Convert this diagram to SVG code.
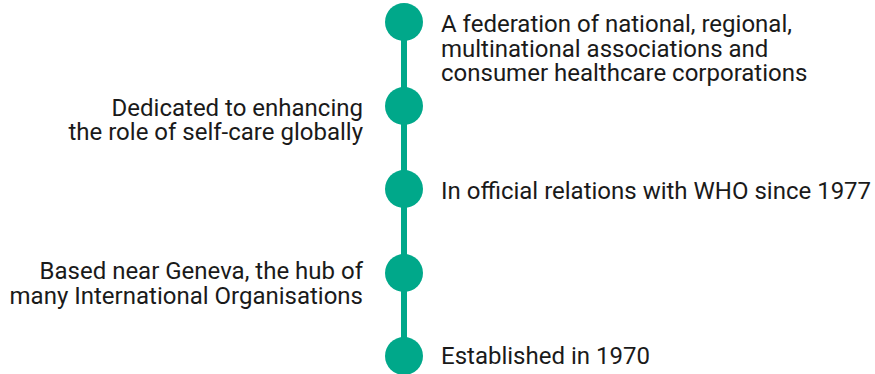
<svg xmlns="http://www.w3.org/2000/svg" width="875" height="374" viewBox="0 0 875 374">
  <style>
    .dot { fill: #00A88A; }
    .spine { stroke: #00A88A; stroke-width: 6; fill: none; }
    .lbl { font-family: Roboto, "Liberation Sans", sans-serif; font-size: 24px; fill: #1a1a1a; }
    .left { text-anchor: end; }
  </style>
  <rect width="875" height="374" fill="#ffffff"/>
  <g id="connectors">
    <line class="spine" x1="404" y1="22" x2="404" y2="356"/>
  </g>
  <g id="node-federation">
    <circle class="dot" cx="404" cy="22" r="19"/>
    <text class="lbl" x="441" y="32">A federation of national, regional,</text>
    <text class="lbl" x="441" y="56.5">multinational associations and</text>
    <text class="lbl" x="441" y="81">consumer healthcare corporations</text>
  </g>
  <g id="node-selfcare">
    <circle class="dot" cx="404" cy="106" r="19"/>
    <text class="lbl left" x="363" y="115.5">Dedicated to enhancing</text>
    <text class="lbl left" x="363" y="140">the role of self-care globally</text>
  </g>
  <g id="node-who">
    <circle class="dot" cx="404" cy="189" r="19"/>
    <text class="lbl" x="441" y="199">In official relations with WHO since 1977</text>
  </g>
  <g id="node-geneva">
    <circle class="dot" cx="404" cy="273" r="19"/>
    <text class="lbl left" x="363" y="279">Based near Geneva, the hub of</text>
    <text class="lbl left" x="363" y="303.5">many International Organisations</text>
  </g>
  <g id="node-established">
    <circle class="dot" cx="404" cy="356" r="19"/>
    <text class="lbl" x="441" y="364">Established in 1970</text>
  </g>
</svg>
